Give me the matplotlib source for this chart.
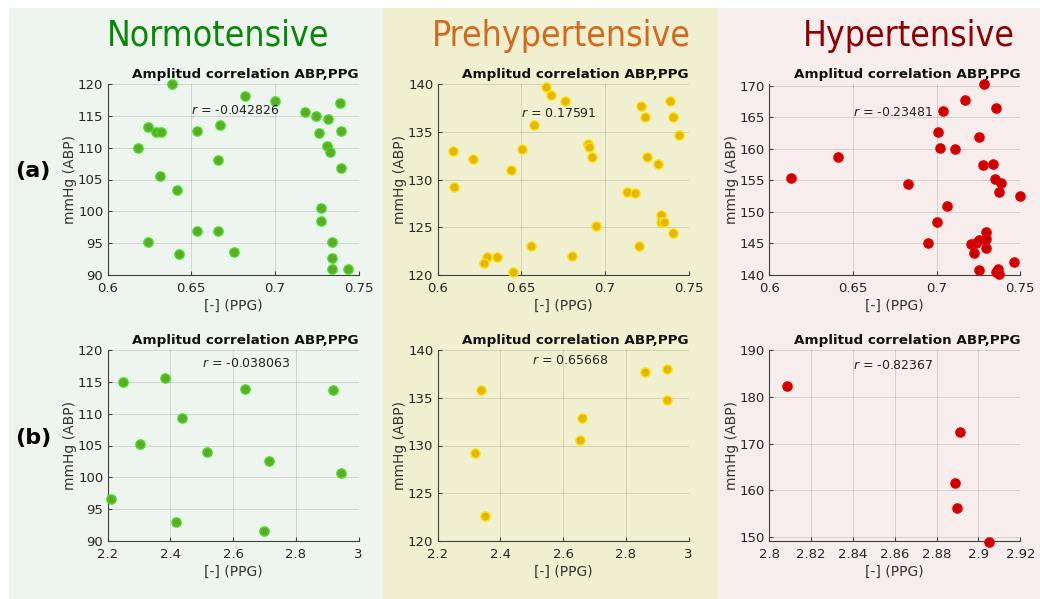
import matplotlib
matplotlib.use('Agg')
import matplotlib.pyplot as plt
from matplotlib.patches import Rectangle
from matplotlib.ticker import FuncFormatter, MultipleLocator

# (a) Normotensive
norm_a_ppg = [0.6388, 0.6819, 0.7000, 0.7179, 0.7245, 0.7319, 0.7387, 0.6243, 0.6291, 0.6321,
              0.6536, 0.6673, 0.7261, 0.7396, 0.6183, 0.6663, 0.7311, 0.7329, 0.7398, 0.6311,
              0.6418, 0.7273, 0.7277, 0.6536, 0.6661, 0.6243, 0.6428, 0.6753, 0.7339, 0.7339,
              0.7339, 0.7436]
norm_a_abp = [120.0, 118.1, 117.3, 115.65, 114.97, 114.55, 117.0, 113.2, 112.46, 112.46,
              112.57, 113.6, 112.36, 112.6, 110.0, 108.0, 110.26, 109.27, 106.75, 105.6,
              103.3, 100.47, 98.53, 96.96, 96.9, 95.13, 93.25, 93.6, 95.18, 92.67,
              90.9, 90.9]
# (a) Prehypertensive
pre_a_ppg = [0.6649, 0.6679, 0.6764, 0.6575, 0.6502, 0.6093, 0.6212, 0.6442, 0.6097, 0.6897,
             0.6903, 0.6923, 0.7216, 0.7242, 0.7389, 0.7407, 0.7446, 0.7252, 0.7315, 0.7135,
             0.7183, 0.7335, 0.7335, 0.7351, 0.7407, 0.6948, 0.6560, 0.7202, 0.6804, 0.6294,
             0.6355, 0.6278, 0.6454]
pre_a_abp = [139.72, 138.85, 138.25, 135.7, 133.19, 132.98, 132.18, 131.03, 129.25, 133.68,
             133.37, 132.39, 137.7, 136.58, 138.25, 136.58, 134.69, 132.36, 131.59, 128.69,
             128.59, 126.25, 125.52, 125.52, 124.36, 125.16, 123.0, 123.0, 122.02, 121.85,
             121.85, 121.26, 120.28]
# (a) Hypertensive
hyp_a_ppg = [0.7285, 0.7167, 0.7353, 0.7040, 0.7010, 0.7255, 0.7020, 0.7108, 0.6412, 0.6129,
             0.7275, 0.7335, 0.7347, 0.7383, 0.7373, 0.6829, 0.7498, 0.7060, 0.7000, 0.6950,
             0.7203, 0.7235, 0.7253, 0.7295, 0.7295, 0.7295, 0.7225, 0.7460, 0.7253, 0.7353,
             0.7365, 0.7373]
hyp_a_abp = [170.3, 167.78, 166.56, 165.98, 162.7, 161.9, 160.21, 159.95, 158.78, 155.45,
             157.41, 157.57, 155.29, 154.66, 153.23, 154.44, 152.54, 151.0, 148.36, 145.08,
             144.92, 145.08, 145.5, 146.83, 145.71, 144.34, 143.54, 142.12, 140.79, 140.53,
             140.9, 140.21]
# (b)
norm_b_ppg = [2.248, 2.383, 2.637, 2.920, 2.438, 2.303, 2.517, 2.716, 2.944, 2.2096, 2.418, 2.699]
norm_b_abp = [114.94, 115.62, 113.9, 113.79, 109.28, 105.25, 103.94, 102.53, 100.75, 96.61, 92.99, 91.58]
pre_b_ppg = [2.3386, 2.3185, 2.3513, 2.6593, 2.6529, 2.8603, 2.9323, 2.9312]
pre_b_abp = [135.81, 129.25, 122.58, 132.84, 130.61, 137.73, 137.98, 134.73]
hyp_b_ppg = [2.8087, 2.8914, 2.8886, 2.8895, 2.9051]
hyp_b_abp = [182.31, 172.42, 161.6, 156.33, 149.07]

r_values = ['-0.042826', '0.17591', '-0.23481', '-0.038063', '0.65668', '-0.82367']
groups = ['Normotensive', 'Prehypertensive', 'Hypertensive']

W, H = 1040, 599
fig = plt.figure(figsize=(W / 100, H / 100), dpi=100)
fig.patch.set_facecolor('white')

# coloured background columns
bgs = [(9, 383, '#eef5ee'), (383, 718, '#f0f0d0'), (718, 1040, '#f8eded')]
for x0, x1, c in bgs:
    fig.patches.append(Rectangle((x0 / W, 0), (x1 - x0) / W, 1 - 8 / H,
                                 transform=fig.transFigure, facecolor=c,
                                 edgecolor='none', zorder=-5))

head_cols = ['#0a870a', '#d2691e', '#8b0000']
head_x = [218, 561, 909]
for g, c, x in zip(groups, head_cols, head_x):
    fig.text(x / W, 1 - 36 / H, g, color=c, fontsize=25.5, ha='center', va='center',
             fontstretch='condensed')

fig.text(33 / W, 1 - 171 / H, '(a)', fontsize=16, fontweight='bold', ha='center', va='center')
fig.text(33 / W, 1 - 438 / H, '(b)', fontsize=16, fontweight='bold', ha='center', va='center')

face = ['#62a82c', '#e3b412', '#c80000']
edge = ['#3ce21c', '#ffe200', '#e40000']

panels = [
    (norm_a_ppg, norm_a_abp, (0.6, 0.75), (90, 120), 0.05, 5, (0.65, 115.8)),
    (pre_a_ppg, pre_a_abp, (0.6, 0.75), (120, 140), 0.05, 5, (0.65, 136.9)),
    (hyp_a_ppg, hyp_a_abp, (0.6, 0.75), (140, 170.3), 0.05, 5, (0.65, 165.7)),
    (norm_b_ppg, norm_b_abp, (2.2, 3.0), (90, 120), 0.2, 5, (2.5, 117.9)),
    (pre_b_ppg, pre_b_abp, (2.2, 3.0), (120, 140), 0.2, 5, (2.5, 138.95)),
    (hyp_b_ppg, hyp_b_abp, (2.8, 2.92), (149.2, 190), 0.02, 10, (2.84, 186.6)),
]

lefts = [107.5, 437.5, 769.3]
tops = [84, 350]
aw, ah = 251, 191

fmt = FuncFormatter(lambda v, p: '%g' % round(v, 4))

for i, (xs, ys, xl, yl, xstep, ystep, rpos) in enumerate(panels):
    row, col = divmod(i, 3)
    ax = fig.add_axes([lefts[col] / W, 1 - (tops[row] + ah) / H, aw / W, ah / H])
    ax.set_facecolor('none')
    ax.scatter(xs, ys, s=44, c=face[col], edgecolors=edge[col], linewidths=1.0,
               zorder=3, clip_on=False)
    ax.set_xlim(*xl)
    ax.set_ylim(*yl)
    ax.xaxis.set_major_locator(MultipleLocator(xstep))
    ax.yaxis.set_major_locator(MultipleLocator(ystep))
    ax.xaxis.set_major_formatter(fmt)
    ax.yaxis.set_major_formatter(fmt)
    ax.grid(True, color='black', alpha=0.13, lw=0.7)
    ax.set_axisbelow(True)
    for s in ['top', 'right']:
        ax.spines[s].set_visible(False)
    for s in ['left', 'bottom']:
        ax.spines[s].set_color('#404040')
        ax.spines[s].set_linewidth(0.8)
    ax.tick_params(direction='in', length=3, width=0.8, colors='#404040',
                   labelsize=9.5, labelcolor='#262626')
    ax.tick_params(axis='x', pad=5)
    ax.tick_params(axis='y', pad=3)
    ax.set_title('Amplitud correlation ABP,PPG', loc='right', fontsize=9.7,
                 fontweight='bold', pad=4, color='#111111')
    ax.text(rpos[0], rpos[1], '$r$ = ' + r_values[i], fontsize=9, color='#222222',
            ha='left', va='center')
    ax.set_xlabel('[-] (PPG)', fontsize=10, color='#333333', labelpad=3)
    ax.set_ylabel('mmHg (ABP)', fontsize=10, color='#333333')
    ax.yaxis.set_label_coords(-0.12, 0.5)

plt.savefig('out.png', dpi=100)
